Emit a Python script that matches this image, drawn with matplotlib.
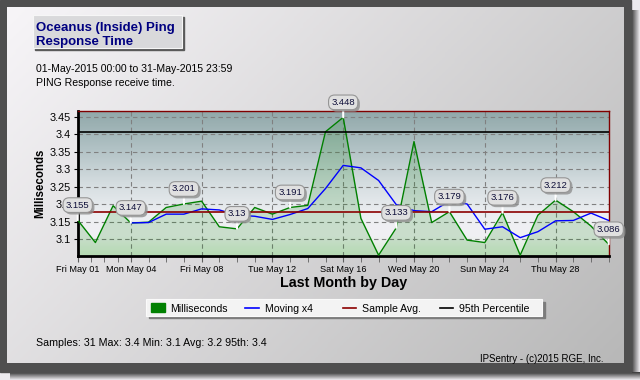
import numpy as np
import matplotlib
matplotlib.use('Agg')
from matplotlib import pyplot as plt
from matplotlib.colors import LinearSegmentedColormap
from matplotlib.patches import Rectangle
from matplotlib.lines import Line2D
from matplotlib import patheffects

plt.rcParams['font.family'] = ['Liberation Sans', 'DejaVu Sans']

# data, May 2015, one sample per day
days = list(range(1, 32))
milliseconds = [3.155, 3.091, 3.196, 3.147, 3.149, 3.191, 3.201, 3.209, 3.136, 3.130,
                3.191, 3.172, 3.191, 3.197, 3.407, 3.448, 3.160, 3.055, 3.133, 3.379,
                3.148, 3.179, 3.098, 3.091, 3.176, 3.055, 3.169, 3.212, 3.179, 3.138,
                3.086]
moving_days = list(range(4, 32))
moving_x4 = [3.147, 3.148, 3.172, 3.172, 3.187, 3.184, 3.169, 3.166, 3.157, 3.171,
             3.188, 3.245, 3.311, 3.304, 3.268, 3.199, 3.182, 3.179, 3.209, 3.201,
             3.129, 3.136, 3.105, 3.122, 3.153, 3.154, 3.175, 3.154]
sample_avg = 3.177
percentile_95 = 3.405
label_days = [1, 4, 7, 10, 13, 16, 19, 22, 25, 28, 31]

tick_days = [1, 4, 8, 12, 16, 20, 24, 28]
tick_labels = ['Fri May 01', 'Mon May 04', 'Fri May 08', 'Tue May 12',
               'Sat May 16', 'Wed May 20', 'Sun May 24', 'Thu May 28']
y_ticks = [3.1, 3.15, 3.2, 3.25, 3.3, 3.35, 3.4, 3.45]
legend_labels = ['Milliseconds', 'Moving x4', 'Sample Avg.', '95th Percentile']
legend_colors = ['#008000', '#0000ff', '#8b0000', '#000000']

title_lines = ['Oceanus (Inside) Ping', 'Response Time']
subtitle_lines = ['01-May-2015 00:00 to 31-May-2015 23:59', 'PING Response receive time.']
stats_text = 'Samples: 31 Max: 3.4 Min: 3.1 Avg: 3.2 95th: 3.4'
footer_text = 'IPSentry - (c)2015 RGE, Inc.'

W, H = 640, 380
fig = plt.figure(figsize=(6.4, 3.8), dpi=100)
fig.patch.set_facecolor('#eceaee')

# background layer in pixel coordinates
bg = fig.add_axes([0, 0, 1, 1])
bg.axis('off')

shade = LinearSegmentedColormap.from_list('shade', ['#3a3a3a', '#eceaee'])
bg.imshow(np.linspace(0, 1, 20)[None, :], cmap=shade, extent=[631, 640, 380, 10],
          aspect='auto', zorder=0)
bg.imshow(np.linspace(0, 1, 20)[:, None], cmap=shade, extent=[10, 640, 380, 372],
          aspect='auto', zorder=0)
bg.add_patch(Rectangle((0, 0), 631, 372, color='#4f4f4f', zorder=0.1))

panel = LinearSegmentedColormap.from_list('panel', ['#f7f5f8', '#b8b8b8'])
gx, gy = np.meshgrid(np.linspace(0, 1, 200), np.linspace(0, 1, 120))
bg.imshow(0.65 * gx + 0.35 * gy, cmap=panel, extent=[7, 624, 363, 7],
          aspect='auto', zorder=0.2)

plot_bg = LinearSegmentedColormap.from_list(
    'plot_bg', [(0, '#91a8aa'), (0.25, '#b0c1c4'), (0.5, '#d5dde0'),
                (0.72, '#edeff2'), (0.86, '#f1f0f4'), (1.0, '#d8ecd5')])
left, right, top, bottom = 77.7, 608.7, 110.7, 255.7
bg.imshow(np.linspace(0, 1, 200)[:, None], cmap=plot_bg,
          extent=[left, right, bottom, top], aspect='auto', zorder=0.3)
bg.set_xlim(0, W)
bg.set_ylim(H, 0)

# title box
bg.add_patch(Rectangle((35, 17), 149, 33, color='#5a5a5a', zorder=1))
bg.add_patch(Rectangle((33, 15), 149, 33, facecolor='#d9d9db', edgecolor='#f6f6f6', lw=0.8, zorder=1.1))
bg.text(36, 30.5, title_lines[0], fontsize=9.5, fontweight='bold', color='#000080', va='baseline')
bg.text(36, 45, title_lines[1], fontsize=9.5, fontweight='bold', color='#000080', va='baseline')

bg.text(36, 72.5, subtitle_lines[0], fontsize=7.6, va='baseline')
bg.text(36, 86, subtitle_lines[1], fontsize=7.6, va='baseline')
bg.text(36, 346.5, stats_text, fontsize=7.7, va='baseline')
bg.text(604, 362, footer_text, fontsize=7, va='baseline', ha='right')

# legend box
bg.add_patch(Rectangle((148.5, 302), 396, 16.4, color='#7c7c7c', zorder=1))
bg.add_patch(Rectangle((145.7, 299.3), 396, 16.4, facecolor='#f3f3f3', edgecolor='#fafafa', lw=0.8, zorder=1.1))
for i, (lab, col) in enumerate(zip(legend_labels, legend_colors)):
    x0 = 151 + i * 97.1
    if i == 0:
        bg.add_patch(Rectangle((x0, 302.7), 14.3, 9, color=col, zorder=2))
    else:
        bg.add_line(Line2D([x0 - 2.7, x0 + 11], [308, 308], color=col, lw=1.2, zorder=2))
    bg.text(x0 + 19.5 - (3 if i else 0), 311.5, lab, fontsize=7.6, va='baseline')

# chart
ax = fig.add_axes([left / W, 1 - bottom / H, (right - left) / W, (bottom - top) / H])
ax.set_facecolor('none')
y0, y1 = 3.0535, 3.467

ax.fill_between(days, milliseconds, y0, color='#008000', alpha=0.16, lw=0, zorder=2)
ax.plot(days, milliseconds, color='#008000', lw=1, zorder=3)
ax.plot(moving_days, moving_x4, color='#0000ff', lw=1, zorder=3)
ax.axhline(sample_avg, color='#8b0000', lw=1.2, zorder=3)
ax.axhline(percentile_95, color='black', lw=1.2, zorder=3)

for d in label_days:
    v = milliseconds[d - 1]
    txt = f'{v:.3f}'.rstrip('0')
    an = ax.annotate(txt, xy=(d, v), xytext=(0, 15), textcoords='offset pixels',
                     ha='center', va='center', fontsize=6.8, color='#10103a',
                     bbox=dict(boxstyle='round,pad=0.3,rounding_size=0.65', fc='#e0e0e0', ec='#959595', lw=0.8),
                     arrowprops=dict(arrowstyle='-', color='white', lw=1.5, shrinkA=0, shrinkB=0),
                     annotation_clip=False, zorder=6)
    an.get_bbox_patch().set_path_effects([
        patheffects.SimplePatchShadow(offset=(1.5, -1.5), shadow_rgbFace='#909090', alpha=0.8),
        patheffects.Normal()])

ax.set_xlim(1, 31)
ax.set_ylim(y0, y1)
ax.set_xticks(tick_days, tick_labels)
ax.set_xticks(np.concatenate([np.linspace(1, 4, 5), np.arange(4, 32)]), minor=True)
ax.set_yticks(y_ticks, [f'{v:g}' for v in y_ticks])
ax.grid(True, which='major', ls=(0, (4, 3)), color='#808080', lw=0.8, zorder=1)
ax.set_axisbelow(True)

ax.tick_params(axis='x', which='both', length=4, color='#606060', labelsize=6.6, pad=3)
ax.tick_params(axis='y', length=3, labelsize=7.8, pad=2)

for s in ['left', 'bottom']:
    ax.spines[s].set_linewidth(2)
    ax.spines[s].set_color('black')
for s in ['top', 'right']:
    ax.spines[s].set_linewidth(1)
    ax.spines[s].set_color('#800000')

ax.set_ylabel('Milliseconds', fontsize=8.3, fontweight='bold')
ax.yaxis.label.set_va('center')
ax.yaxis.set_label_coords((40 - left) / (right - left), 0.5)
ax.set_xlabel('Last Month by Day', fontsize=10.3, fontweight='bold')
ax.xaxis.label.set_va('center')
ax.xaxis.set_label_coords(0.5, -(283.5 - bottom) / (bottom - top))

fig.savefig('out.png', dpi=100, facecolor=fig.get_facecolor())
